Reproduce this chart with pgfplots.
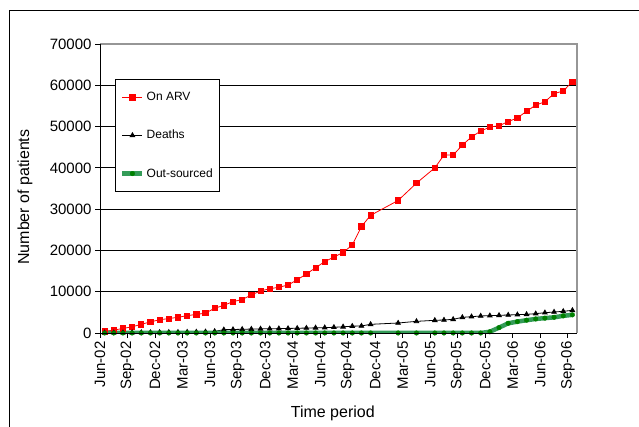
\documentclass[border=0pt]{standalone}
\usepackage{pgfplots}
\pgfplotsset{compat=1.18}
\usepackage{fontspec}
\setmainfont{Liberation Sans}
\definecolor{arvred}{RGB}{255,0,0}
\definecolor{osband}{RGB}{52,156,88}
\definecolor{osmark}{RGB}{0,128,0}
\definecolor{bordergray}{RGB}{150,150,150}
\begin{document}
\begin{tikzpicture}
\useasboundingbox (0pt,0pt) rectangle (639pt,427pt);
\draw[line width=1pt] (9pt,-2pt) -- (9pt,416pt) -- (641pt,416pt);
\begin{axis}[
  at={(100pt,94pt)}, anchor=south west,
  scale only axis, width=477pt, height=289pt,
  xmin=0, xmax=52, ymin=0, ymax=70000,
  xtick={0,3,...,51},
  xticklabels={Jun-02,Sep-02,Dec-02,Mar-03,Jun-03,Sep-03,Dec-03,Mar-04,Jun-04,Sep-04,Dec-04,Mar-05,Jun-05,Sep-05,Dec-05,Mar-06,Jun-06,Sep-06},
  ytick={0,10000,...,70000},
  /pgf/number format/assume math mode=true,
  /pgf/number format/1000 sep={},
  scaled y ticks=false,
  x tick label style={rotate=90, anchor=east, font=\fontsize{15}{18}\selectfont},
  y tick label style={font=\fontsize{15}{18}\selectfont},
  tick align=outside, xtick pos=bottom, ytick pos=left,
  major tick length=5pt,
  tick style={black, line width=0.8pt},
  ymajorgrids, major grid style={black, line width=0.8pt},
  axis line style={draw=none},
  xlabel={Time period},
  ylabel={Number of patients},
  xlabel style={at={(axis description cs:0.488,-0.277)}, anchor=center, font=\fontsize{16}{19}\selectfont},
  ylabel style={at={(axis description cs:-0.157,0.47)}, anchor=center, font=\fontsize{16}{19}\selectfont},
  legend style={at={(axis description cs:0.031,0.879)}, anchor=north west,
    draw=black, line width=0.8pt, font=\fontsize{12}{14}\selectfont,
    row sep=24pt, inner xsep=5pt, inner ysep=11pt},
  legend cell align=left,
  legend image code/.code={\draw[mark repeat=2,mark phase=2] plot coordinates {(0pt,0pt) (10pt,0pt) (20pt,0pt)};},
  after end axis/.code={
    \draw[bordergray, line width=1.4pt] (rel axis cs:0,1) -- (rel axis cs:1,1) -- (rel axis cs:1,0);
    \draw[black, line width=0.9pt] (rel axis cs:0,1) -- (rel axis cs:0,0) -- (rel axis cs:1,0);
  },
]
\addplot[arvred, line width=0.8pt, mark=square*, mark size=2.6pt, mark options={solid}] coordinates {
(0.5,400) (1.5,700) (2.5,1100) (3.5,1500) (4.5,2100) (5.5,2700) (6.5,3200) (7.5,3500)
(8.5,3800) (9.5,4200) (10.5,4500) (11.5,4800) (12.5,6000) (13.5,6700) (14.5,7600) (15.5,8100)
(16.5,9200) (17.5,10200) (18.5,10700) (19.5,11100) (20.5,11600) (21.5,12900) (22.5,14300) (23.5,15800)
(24.5,17300) (25.5,18400) (26.5,19500) (27.5,21300) (28.5,25800) (29.5,28500) (32.5,32100) (34.5,36300)
(36.5,40000) (37.5,43100) (38.5,43100) (39.5,45500) (40.5,47500) (41.5,48900) (42.5,49900) (43.5,50200)
(44.5,51200) (45.5,52100) (46.5,53700) (47.5,55200) (48.5,56000) (49.5,58000) (50.5,58600) (51.5,60900)
};
\addlegendentry{On ARV}
\addplot[black, line width=0.8pt, mark=triangle*, mark size=2.6pt] coordinates {
(0.5,50) (1.5,60) (2.5,80) (3.5,100) (4.5,120) (5.5,140) (6.5,160) (7.5,180)
(8.5,200) (9.5,230) (10.5,260) (11.5,300) (12.5,400) (13.5,800) (14.5,850) (15.5,900)
(16.5,950) (17.5,1000) (18.5,1030) (19.5,1060) (20.5,1100) (21.5,1150) (22.5,1200) (23.5,1250)
(24.5,1300) (25.5,1380) (26.5,1500) (27.5,1650) (28.5,1700) (29.5,2100) (32.5,2420) (34.5,2820)
(36.5,3070) (37.5,3150) (38.5,3310) (39.5,3790) (40.5,3950) (41.5,4120) (42.5,4200) (43.5,4280)
(44.5,4360) (45.5,4440) (46.5,4520) (47.5,4680) (48.5,4920) (49.5,5080) (50.5,5250) (51.5,5490)
};
\addlegendentry{Deaths}
\addplot[osband, line width=4.5pt, mark=*, mark size=2.3pt, mark options={osmark, fill=osmark, line width=0.4pt}] coordinates {
(0.5,0) (1.5,0) (2.5,0) (3.5,0) (4.5,0) (5.5,0) (6.5,0) (7.5,0)
(8.5,0) (9.5,0) (10.5,0) (11.5,0) (12.5,0) (13.5,0) (14.5,0) (15.5,0)
(16.5,0) (17.5,0) (18.5,0) (19.5,0) (20.5,0) (21.5,0) (22.5,0) (23.5,0)
(24.5,0) (25.5,0) (26.5,0) (27.5,0) (28.5,0) (29.5,0) (32.5,0) (34.5,0)
(36.5,0) (37.5,0) (38.5,0) (39.5,0) (40.5,0) (41.5,0) (42.5,300) (43.5,1300)
(44.5,2350) (45.5,2750) (46.5,3100) (47.5,3400) (48.5,3600) (49.5,3800) (50.5,4150) (51.5,4400)
};
\addlegendentry{Out-sourced}
\end{axis}
\end{tikzpicture}
\end{document}
